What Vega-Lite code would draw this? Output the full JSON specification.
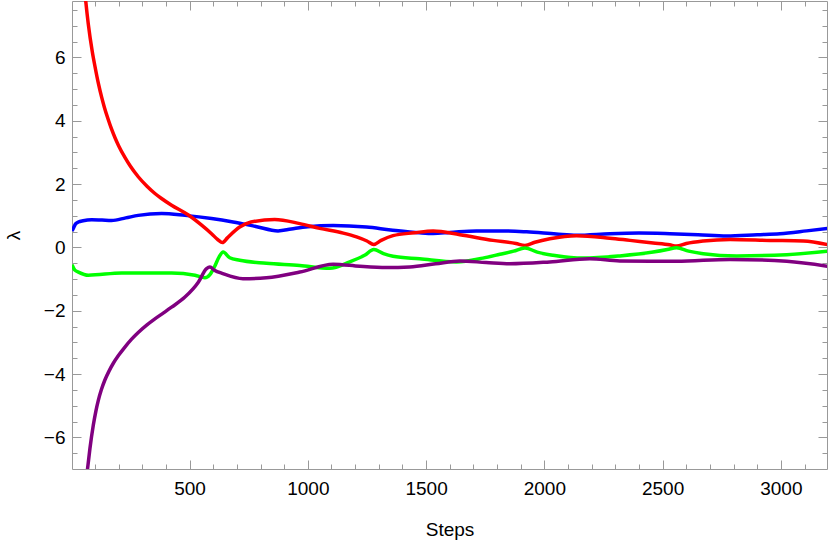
{
  "$schema": "https://vega.github.io/schema/vega-lite/v6.json",
  "width": 755,
  "height": 468,
  "autosize": "none",
  "padding": {"left": 72, "top": 1, "right": 3, "bottom": 73},
  "background": "white",
  "config": {
    "view": {"stroke": null},
    "font": "Liberation Sans",
    "axis": {
      "grid": false,
      "domainColor": "#999999",
      "tickColor": "#999999",
      "tickWidth": 1,
      "labelFont": "Liberation Sans",
      "titleFont": "Liberation Sans",
      "labelFontSize": 19,
      "titleFontSize": 19,
      "labelColor": "#000000",
      "titleColor": "#000000",
      "titleFontWeight": "normal",
      "labelFlush": false,
      "labelOverlap": false
    }
  },
  "datasets": {
    "curves": [
      {"s": "b", "x": 3, "y": 0.52}, {"s": "b", "x": 8, "y": 0.59}, {"s": "b", "x": 18, "y": 0.74}, {"s": "b", "x": 30, "y": 0.8},
      {"s": "b", "x": 50, "y": 0.84}, {"s": "b", "x": 86, "y": 0.87}, {"s": "b", "x": 130, "y": 0.86}, {"s": "b", "x": 170, "y": 0.85},
      {"s": "b", "x": 230, "y": 0.93}, {"s": "b", "x": 283, "y": 1.01}, {"s": "b", "x": 382, "y": 1.07}, {"s": "b", "x": 481, "y": 1.01},
      {"s": "b", "x": 593, "y": 0.91}, {"s": "b", "x": 684, "y": 0.8},
      {"s": "b", "x": 780, "y": 0.66}, {"s": "b", "x": 874, "y": 0.52}, {"s": "b", "x": 930, "y": 0.58}, {"s": "b", "x": 1000, "y": 0.65},
      {"s": "b", "x": 1107, "y": 0.69}, {"s": "b", "x": 1248, "y": 0.64}, {"s": "b", "x": 1350, "y": 0.55}, {"s": "b", "x": 1473, "y": 0.46},
      {"s": "b", "x": 1530, "y": 0.44}, {"s": "b", "x": 1600, "y": 0.47}, {"s": "b", "x": 1713, "y": 0.52}, {"s": "b", "x": 1825, "y": 0.52},
      {"s": "b", "x": 1925, "y": 0.49}, {"s": "b", "x": 2050, "y": 0.42}, {"s": "b", "x": 2136, "y": 0.38}, {"s": "b", "x": 2277, "y": 0.43},
      {"s": "b", "x": 2400, "y": 0.45}, {"s": "b", "x": 2531, "y": 0.43}, {"s": "b", "x": 2650, "y": 0.4}, {"s": "b", "x": 2771, "y": 0.36},
      {"s": "b", "x": 2900, "y": 0.4}, {"s": "b", "x": 2996, "y": 0.43}, {"s": "b", "x": 3109, "y": 0.52}, {"s": "b", "x": 3200, "y": 0.6},

      {"s": "r", "x": 55, "y": 8.25}, {"s": "r", "x": 60.5, "y": 7.82}, {"s": "r", "x": 71.9, "y": 7.05}, {"s": "r", "x": 88.8, "y": 6.18},
      {"s": "r", "x": 100, "y": 5.72}, {"s": "r", "x": 115, "y": 5.16}, {"s": "r", "x": 128, "y": 4.75}, {"s": "r", "x": 140, "y": 4.42},
      {"s": "r", "x": 156.5, "y": 4.03}, {"s": "r", "x": 170, "y": 3.74}, {"s": "r", "x": 184.4, "y": 3.47}, {"s": "r", "x": 200, "y": 3.21},
      {"s": "r", "x": 226.7, "y": 2.84}, {"s": "r", "x": 250, "y": 2.56}, {"s": "r", "x": 283, "y": 2.23}, {"s": "r", "x": 320, "y": 1.93},
      {"s": "r", "x": 353.6, "y": 1.7}, {"s": "r", "x": 380, "y": 1.55}, {"s": "r", "x": 424, "y": 1.33},
      {"s": "r", "x": 495, "y": 1.02}, {"s": "r", "x": 551, "y": 0.7}, {"s": "r", "x": 593, "y": 0.43}, {"s": "r", "x": 620, "y": 0.24},
      {"s": "r", "x": 639, "y": 0.15}, {"s": "r", "x": 660, "y": 0.3},
      {"s": "r", "x": 712, "y": 0.64}, {"s": "r", "x": 760, "y": 0.8}, {"s": "r", "x": 860, "y": 0.88}, {"s": "r", "x": 966, "y": 0.75},
      {"s": "r", "x": 1050, "y": 0.6}, {"s": "r", "x": 1150, "y": 0.45}, {"s": "r", "x": 1206, "y": 0.33}, {"s": "r", "x": 1250, "y": 0.2},
      {"s": "r", "x": 1279, "y": 0.09}, {"s": "r", "x": 1310, "y": 0.22}, {"s": "r", "x": 1360, "y": 0.37}, {"s": "r", "x": 1450, "y": 0.46},
      {"s": "r", "x": 1530, "y": 0.52}, {"s": "r", "x": 1643, "y": 0.4}, {"s": "r", "x": 1783, "y": 0.22}, {"s": "r", "x": 1880, "y": 0.12},
      {"s": "r", "x": 1918, "y": 0.06}, {"s": "r", "x": 1960, "y": 0.16}, {"s": "r", "x": 2023, "y": 0.27}, {"s": "r", "x": 2136, "y": 0.37},
      {"s": "r", "x": 2277, "y": 0.29}, {"s": "r", "x": 2362, "y": 0.22}, {"s": "r", "x": 2460, "y": 0.14}, {"s": "r", "x": 2530, "y": 0.08},
      {"s": "r", "x": 2559, "y": 0.04}, {"s": "r", "x": 2600, "y": 0.12}, {"s": "r", "x": 2672, "y": 0.2}, {"s": "r", "x": 2785, "y": 0.25},
      {"s": "r", "x": 2954, "y": 0.22}, {"s": "r", "x": 3095, "y": 0.2}, {"s": "r", "x": 3200, "y": 0.08},

      {"s": "g", "x": 3, "y": -0.55}, {"s": "g", "x": 15, "y": -0.72}, {"s": "g", "x": 30, "y": -0.78}, {"s": "g", "x": 72, "y": -0.88},
      {"s": "g", "x": 213, "y": -0.81}, {"s": "g", "x": 424, "y": -0.81}, {"s": "g", "x": 523, "y": -0.88},
      {"s": "g", "x": 565, "y": -0.96}, {"s": "g", "x": 586, "y": -0.86}, {"s": "g", "x": 605, "y": -0.62}, {"s": "g", "x": 625, "y": -0.3},
      {"s": "g", "x": 642, "y": -0.15}, {"s": "g", "x": 670, "y": -0.33}, {"s": "g", "x": 712, "y": -0.41}, {"s": "g", "x": 825, "y": -0.5},
      {"s": "g", "x": 966, "y": -0.57}, {"s": "g", "x": 1093, "y": -0.66}, {"s": "g", "x": 1177, "y": -0.46}, {"s": "g", "x": 1240, "y": -0.25},
      {"s": "g", "x": 1279, "y": -0.07}, {"s": "g", "x": 1320, "y": -0.2}, {"s": "g", "x": 1360, "y": -0.28}, {"s": "g", "x": 1473, "y": -0.36},
      {"s": "g", "x": 1629, "y": -0.46}, {"s": "g", "x": 1740, "y": -0.34}, {"s": "g", "x": 1812, "y": -0.22}, {"s": "g", "x": 1870, "y": -0.12},
      {"s": "g", "x": 1918, "y": -0.02}, {"s": "g", "x": 1970, "y": -0.15}, {"s": "g", "x": 2037, "y": -0.25}, {"s": "g", "x": 2164, "y": -0.34},
      {"s": "g", "x": 2319, "y": -0.27}, {"s": "g", "x": 2460, "y": -0.15}, {"s": "g", "x": 2520, "y": -0.07}, {"s": "g", "x": 2559, "y": -0.01},
      {"s": "g", "x": 2610, "y": -0.12}, {"s": "g", "x": 2672, "y": -0.2}, {"s": "g", "x": 2813, "y": -0.27}, {"s": "g", "x": 3025, "y": -0.23},
      {"s": "g", "x": 3200, "y": -0.12},

      {"s": "p", "x": 64, "y": -7.32}, {"s": "p", "x": 67.7, "y": -7.06}, {"s": "p", "x": 78.7, "y": -6.36}, {"s": "p", "x": 93, "y": -5.62},
      {"s": "p", "x": 104, "y": -5.17}, {"s": "p", "x": 114, "y": -4.84}, {"s": "p", "x": 127, "y": -4.5}, {"s": "p", "x": 142, "y": -4.19},
      {"s": "p", "x": 160, "y": -3.9}, {"s": "p", "x": 177.7, "y": -3.66}, {"s": "p", "x": 200, "y": -3.41}, {"s": "p", "x": 226.7, "y": -3.15},
      {"s": "p", "x": 255, "y": -2.9}, {"s": "p", "x": 283, "y": -2.69}, {"s": "p", "x": 320, "y": -2.45}, {"s": "p", "x": 353.6, "y": -2.26},
      {"s": "p", "x": 390, "y": -2.07}, {"s": "p", "x": 424, "y": -1.89}, {"s": "p", "x": 480.5, "y": -1.57},
      {"s": "p", "x": 537, "y": -1.1}, {"s": "p", "x": 572, "y": -0.67}, {"s": "p", "x": 586, "y": -0.62}, {"s": "p", "x": 605, "y": -0.72},
      {"s": "p", "x": 641, "y": -0.83}, {"s": "p", "x": 726, "y": -0.99},
      {"s": "p", "x": 825, "y": -0.96}, {"s": "p", "x": 966, "y": -0.78}, {"s": "p", "x": 1107, "y": -0.53}, {"s": "p", "x": 1220, "y": -0.6},
      {"s": "p", "x": 1332, "y": -0.64}, {"s": "p", "x": 1431, "y": -0.62}, {"s": "p", "x": 1540, "y": -0.52}, {"s": "p", "x": 1643, "y": -0.43},
      {"s": "p", "x": 1754, "y": -0.48}, {"s": "p", "x": 1854, "y": -0.52}, {"s": "p", "x": 2023, "y": -0.46}, {"s": "p", "x": 2192, "y": -0.36},
      {"s": "p", "x": 2319, "y": -0.43}, {"s": "p", "x": 2559, "y": -0.44}, {"s": "p", "x": 2785, "y": -0.38}, {"s": "p", "x": 3025, "y": -0.44},
      {"s": "p", "x": 3200, "y": -0.6}
    ]
  },
  "data": {"name": "curves"},
  "resolve": {"axis": {"x": "independent", "y": "independent"}},
  "layer": [
    {
      "mark": {"type": "line", "strokeWidth": 3.5, "clip": true, "interpolate": "monotone"},
      "encoding": {
        "x": {"field": "x", "type": "quantitative",
          "scale": {"domain": [3, 3195], "nice": false, "zero": false},
          "axis": {"orient": "bottom", "values": [500, 1000, 1500, 2000, 2500, 3000], "format": "d", "ticks": false, "labelPadding": 10, "title": "Steps", "titlePadding": 22, "domain": true}},
        "y": {"field": "y", "type": "quantitative",
          "scale": {"domain": [-7, 7.78], "nice": false, "zero": false},
          "axis": {"orient": "left", "values": [-6, -4, -2, 0, 2, 4, 6], "format": "d", "ticks": false, "labelPadding": 7, "title": "λ", "titlePadding": 20, "domain": true}},
        "color": {"field": "s", "type": "nominal", "legend": null,
          "scale": {"domain": ["b", "r", "g", "p"], "range": ["#0000ff", "#ff0000", "#00ff00", "#800080"]}},
        "detail": {"field": "s"}
      }
    },
    {
      "mark": {"type": "point", "opacity": 0},
      "encoding": {
        "x": {"field": "x", "type": "quantitative",
          "axis": {"orient": "top", "ticks": false, "labels": false, "domain": true, "title": null}},
        "y": {"field": "y", "type": "quantitative",
          "axis": {"orient": "right", "ticks": false, "labels": false, "domain": true, "title": null}}
      }
    },
    {
      "mark": {"type": "point", "opacity": 0},
      "encoding": {
        "x": {"field": "x", "type": "quantitative",
          "axis": {"orient": "top", "offset": -468, "values": [500, 1000, 1500, 2000, 2500, 3000], "tickSize": 9, "labels": false, "domain": false, "title": null}},
        "y": {"field": "y", "type": "quantitative",
          "axis": {"orient": "right", "offset": -755, "values": [-6, -4, -2, 0, 2, 4, 6], "tickSize": 9, "labels": false, "domain": false, "title": null}}
      }
    },
    {
      "mark": {"type": "point", "opacity": 0},
      "encoding": {
        "x": {"field": "x", "type": "quantitative",
          "axis": {"orient": "top", "offset": -468, "values": [100, 200, 300, 400, 600, 700, 800, 900, 1100, 1200, 1300, 1400, 1600, 1700, 1800, 1900, 2100, 2200, 2300, 2400, 2600, 2700, 2800, 2900, 3100], "tickSize": 5, "labels": false, "domain": false, "title": null}},
        "y": {"field": "y", "type": "quantitative",
          "axis": {"orient": "right", "offset": -755, "values": [-6.5, -5.5, -5, -4.5, -3.5, -3, -2.5, -1.5, -1, -0.5, 0.5, 1, 1.5, 2.5, 3, 3.5, 4.5, 5, 5.5, 6.5, 7, 7.5], "tickSize": 5, "labels": false, "domain": false, "title": null}}
      }
    },
    {
      "mark": {"type": "point", "opacity": 0},
      "encoding": {
        "x": {"field": "x", "type": "quantitative",
          "axis": {"orient": "bottom", "offset": -468, "values": [500, 1000, 1500, 2000, 2500, 3000], "tickSize": 9, "labels": false, "domain": false, "title": null}},
        "y": {"field": "y", "type": "quantitative",
          "axis": {"orient": "left", "offset": -755, "values": [-6, -4, -2, 0, 2, 4, 6], "tickSize": 9, "labels": false, "domain": false, "title": null}}
      }
    },
    {
      "mark": {"type": "point", "opacity": 0},
      "encoding": {
        "x": {"field": "x", "type": "quantitative",
          "axis": {"orient": "bottom", "offset": -468, "values": [100, 200, 300, 400, 600, 700, 800, 900, 1100, 1200, 1300, 1400, 1600, 1700, 1800, 1900, 2100, 2200, 2300, 2400, 2600, 2700, 2800, 2900, 3100], "tickSize": 5, "labels": false, "domain": false, "title": null}},
        "y": {"field": "y", "type": "quantitative",
          "axis": {"orient": "left", "offset": -755, "values": [-6.5, -5.5, -5, -4.5, -3.5, -3, -2.5, -1.5, -1, -0.5, 0.5, 1, 1.5, 2.5, 3, 3.5, 4.5, 5, 5.5, 6.5, 7, 7.5], "tickSize": 5, "labels": false, "domain": false, "title": null}}
      }
    }
  ]
}
